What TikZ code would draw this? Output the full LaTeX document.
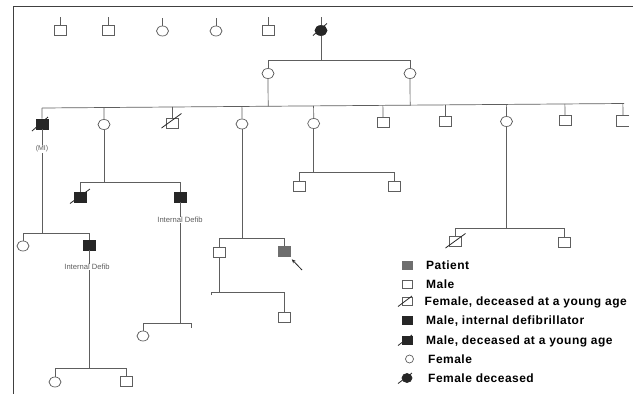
\documentclass[tikz,border=0pt]{standalone}
\usepackage{fontspec}
\setmainfont{Liberation Sans}
\newfontfamily\legfont[LetterSpace=4]{Liberation Sans}
\usetikzlibrary{shapes.geometric,calc,arrows.meta}
\definecolor{lc}{HTML}{5E5E5E}
\definecolor{dk}{HTML}{262626}
\definecolor{pt}{HTML}{6E6E6E}
\newcommand\slashon[1]{\draw[sl] ($(#1.center)+(-10,6.5)$) -- ($(#1.center)+(10,-8)$);}
\newcommand\lslashon[1]{\draw[sl] ($(#1.center)+(-9,5.5)$) -- ($(#1.center)+(5,-5)$);}
\begin{document}
\begin{tikzpicture}[x=1pt,y=-1pt,
  ln/.style={draw=lc,line width=0.7pt},
  sl/.style={draw=dk,line width=0.8pt},
  sq/.style={draw=lc,rectangle,minimum width=12pt,minimum height=10pt,inner sep=0pt,line width=0.7pt},
  ci/.style={draw=lc,ellipse,minimum width=12pt,minimum height=10pt,inner sep=0pt,line width=0.7pt},
  fsq/.style={sq,fill=dk,draw=dk},
  psq/.style={sq,fill=pt,draw=pt},
  fci/.style={ci,fill=dk,draw=dk},
  lsq/.style={minimum width=10pt,minimum height=8pt},
  lab/.style={font=\fontsize{7.6}{8}\selectfont,text=lc,fill=white,inner sep=0.6pt},
  leg/.style={font=\legfont\fontsize{12}{14}\selectfont\bfseries,anchor=base west,inner sep=0pt,text=black}]
\useasboundingbox (0,0) rectangle (633,394);
\fill[white] (0,0) rectangle (633,394);
% frame
\coordinate (fTL) at (13,6);
\coordinate (fTR) at (633,6);
\coordinate (fBL) at (13,394);
\draw[draw=black!75,line width=0.9pt] (fTR) -- (fTL) -- (fBL);
% generation I
\node[sq] (a1) at (60,30.5) {};
\node[sq] (a2) at (108,30.5) {};
\node[ci] (a3) at (162.5,31) {};
\node[ci] (a4) at (216,31) {};
\node[sq] (a5) at (268.5,30.5) {};
\node[fci] (a6) at (321,30.5) {};
\foreach \n in {a1,a2,a3,a4,a5,a6} {\draw[ln] (\n.north) -- ++(0,-8);}
\draw[sl] ($(a6.center)+(-8,5)$) -- ($(a6.center)+(6,-7)$);
% generation II
\coordinate (g2L) at (268,60);
\coordinate (g2R) at (410,60);
\node[ci] (b1) at (268,73.5) {};
\node[ci] (b2) at (410,73.5) {};
\draw[ln] (a6.south) -- (a6.south |- g2L);
\draw[ln] (b1.north) -- (g2L) -- (g2R) -- (b2.north);
% generation III
\coordinate (g3L) at (42,108);
\coordinate (g3R) at (624,103.5);
\draw[ln] (g3L) -- (g3R);
\draw[ln] (b1.south) -- ($(g3L)!(b1.south)!(g3R)$);
\draw[ln] (b2.south) -- ($(g3L)!(b2.south)!(g3R)$);
\node[fsq] (c1) at (42,124) {};
\node[ci] (c2) at (104,124.5) {};
\node[sq] (c3) at (172.5,123.5) {};
\node[ci] (c4) at (242,124) {};
\node[ci] (c5) at (313.7,123.5) {};
\node[sq] (c6) at (383,122.5) {};
\node[sq] (c7) at (445.6,121.5) {};
\node[ci] (c8) at (506.5,121.5) {};
\node[sq] (c9) at (565,120.5) {};
\node[sq,draw=none] (c10) at (623,120.5) {};
\draw[ln] (c10.north east) -- (c10.north west) -- (c10.south west) -- (c10.south east);
\foreach \n in {c1,c2,c3,c4,c5,c6,c7,c8,c9,c10} {\draw[ln] (\n.north) -- ($(g3L)!(\n.north)!(g3R)$);}
\draw[sl] ($(c1.center)+(-10,7)$) -- ($(c1.center)+(6,-7)$);
\draw[sl] ($(c3.center)+(-11,4.5)$) -- ($(c3.center)+(9,-10)$);
% branch of c1
\coordinate (d1L) at (23,233);
\coordinate (d1R) at (89,233);
\draw[ln] (c1.south) -- (c1.south |- d1L);
\node[lab,font=\fontsize{7}{8}\selectfont] (mi) at (42,149) {(MI)};
\node[ci] (d1) at (23,246) {};
\node[fsq] (d2) at (89,245) {};
\draw[ln] (d1.north) -- (d1L) -- (d1R) -- (d2.north);
\coordinate (e1L) at (55,368);
\coordinate (e1R) at (126,368);
\draw[ln] (d2.south) -- (d2.south |- e1L);
\node[lab] (id1) at (87,267) {Internal Defib};
\node[ci] (e1) at (55,382) {};
\node[sq] (e2) at (126,381) {};
\draw[ln] (e1.north) -- (e1L) -- (e1R) -- (e2.north);
% branch of c2
\coordinate (d3L) at (80,182);
\coordinate (d3R) at (180,182);
\draw[ln] (c2.south) -- (c2.south |- d3L);
\node[fsq] (d3) at (80,197) {};
\node[fsq] (d4) at (180,197) {};
\draw[ln] (d3.north) -- (d3L) -- (d3R) -- (d4.north);
\slashon{d3}
\coordinate (e3L) at (143,323);
\coordinate (e3R) at (191,323);
\coordinate (e3T) at (191,328);
\draw[ln] (d4.south) -- (d4.south |- e3L);
\node[lab] (id2) at (180,220) {Internal Defib};
\node[ci] (e3) at (143,336) {};
\draw[ln] (e3.north) -- (e3L) -- (e3R) -- (e3T);
% branch of c4
\coordinate (d5L) at (219,238);
\coordinate (d5R) at (284,238);
\draw[ln] (c4.south) -- (c4.south |- d5L);
\node[sq] (d5) at (219,252) {};
\node[psq] (d6) at (284,251) {};
\draw[ln] (d5.north) -- (d5L) -- (d5R) -- (d6.north);
\coordinate (arT) at (302,270);
\draw[draw=dk,line width=0.8pt,-{Stealth[length=4pt,width=3.5pt]}] (arT) -- ($(d6.south east)+(1.5,3)$);
\coordinate (e4L) at (211,292);
\coordinate (e4R) at (284.5,292);
\coordinate (e4T) at (211,295);
\draw[ln] (d5.south) -- (d5.south |- e4L);
\node[sq] (e4) at (284.5,317) {};
\draw[ln] (e4T) -- (e4L) -- (e4R) -- (e4.north);
% branch of c5
\coordinate (d7L) at (299,172.5);
\coordinate (d7R) at (394,172.5);
\draw[ln] (c5.south) -- (c5.south |- d7L);
\node[sq] (d7) at (299,186) {};
\node[sq] (d8) at (394,186) {};
\draw[ln] (d7.north) -- (d7L) -- (d7R) -- (d8.north);
% branch of c8
\coordinate (d9L) at (455.5,228);
\coordinate (d9R) at (564.5,228);
\draw[ln] (c8.south) -- (c8.south |- d9L);
\node[sq] (d9) at (455.5,241.5) {};
\node[sq] (d10) at (564.5,242) {};
\draw[ln] (d9.north) -- (d9L) -- (d9R) -- (d10.north);
\slashon{d9}
% legend
\node[psq,lsq] (l1) at (407,265.5) {};
\node[sq,lsq] (l2) at (407,284) {};
\node[sq,lsq] (l3) at (407,301) {};
\node[fsq,lsq] (l4) at (407,320) {};
\node[fsq,lsq] (l5) at (407,340) {};
\node[ci,minimum width=8pt,minimum height=8pt] (l6) at (409.5,359) {};
\node[fci,minimum width=10pt,minimum height=9pt] (l7) at (407,378) {};
\lslashon{l3}
\lslashon{l5}
\lslashon{l7}
\node[leg] (t1) at (426,269.5) {Patient};
\node[leg] (t2) at (426,288) {Male};
\node[leg] (t3) at (424.5,305) {Female, deceased at a young age};
\node[leg] (t4) at (426,324) {Male, internal defibrillator};
\node[leg] (t5) at (426,344) {Male, deceased at a young age};
\node[leg] (t6) at (428,363) {Female};
\node[leg] (t7) at (428,382.5) {Female deceased};
\end{tikzpicture}
\end{document}
